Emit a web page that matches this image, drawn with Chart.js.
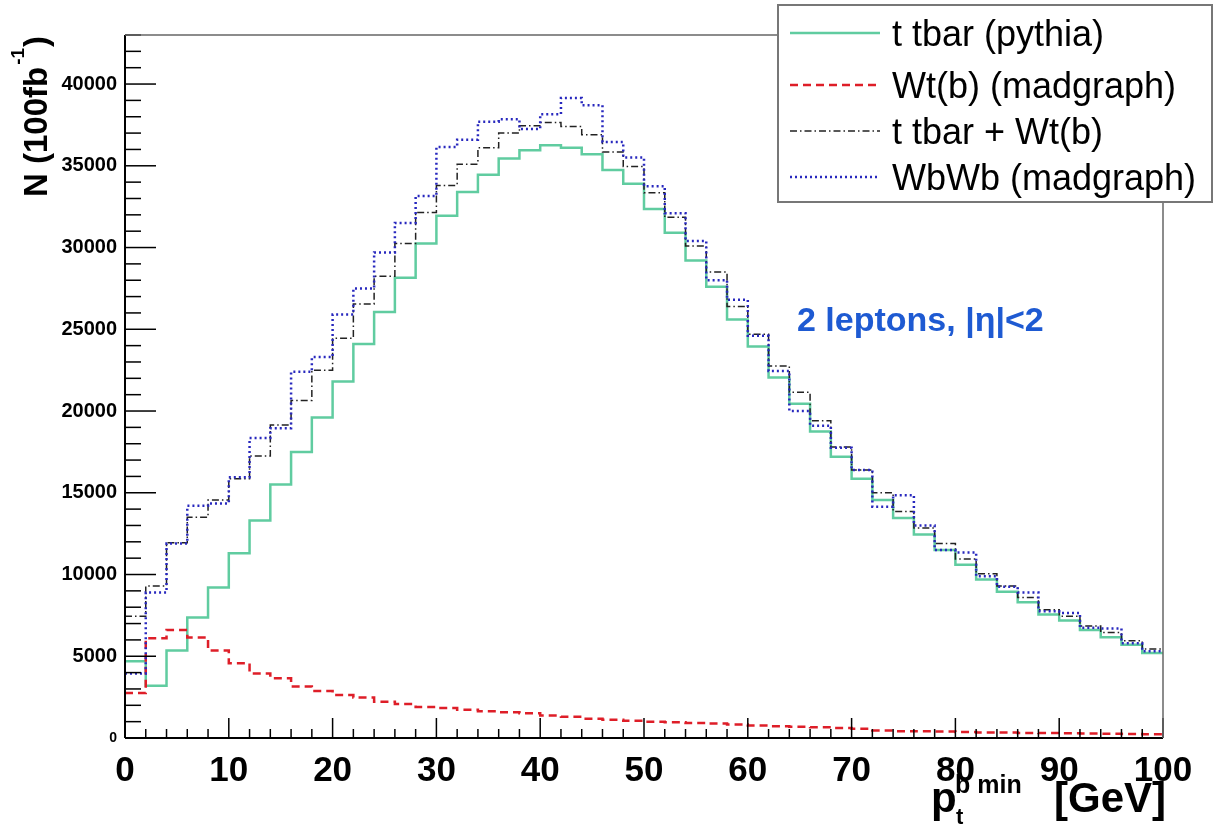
<!DOCTYPE html>
<html>
<head>
<meta charset="utf-8">
<script src="https://cdn.jsdelivr.net/npm/chart.js@4.4.0/dist/chart.umd.min.js"></script>
<style>
  html, body { margin: 0; padding: 0; background: #fff; }
</style>
</head>
<body>
<canvas id="myChart" width="1218" height="827"></canvas>
<script>
const ctx = document.getElementById("myChart");

/* binning: 50 bins of 2 GeV from 0 to 100 */
const binWidth = 2;
const nBins = 50;
const binEdges = [];
for (let i = 0; i <= nBins; i++) binEdges.push(i * binWidth);

const seriesNames = ["t tbar (pythia)", "Wt(b) (madgraph)", "t tbar + Wt(b)", "WbWb (madgraph)"];
const yTickLabels = [0, 5000, 10000, 15000, 20000, 25000, 30000, 35000, 40000];

/* bin contents */
const ttbar = [
  4700, 3200, 5350, 7370, 9200, 11300, 13300, 15500, 17500, 19600,
  21800, 24100, 26050, 28150, 30250, 31950, 33400, 34450, 35450, 35950,
  36250, 36100, 35700, 34750, 33900, 32350, 30900, 29200, 27600, 25600,
  23950, 22050, 20450, 18750, 17200, 15850, 14550, 13450, 12450, 11500,
  10600, 9700, 8950, 8300, 7550, 7180, 6600, 6170, 5700, 5200
];
const wtb = [
  2750, 6100, 6600, 6150, 5350, 4570, 3950, 3650, 3150, 2880,
  2630, 2470, 2220, 2080, 1900, 1840, 1730, 1630, 1580, 1520,
  1380, 1300, 1180, 1120, 1060, 990, 960, 920, 880, 820,
  760, 720, 690, 650, 610, 560, 460, 420, 410, 390,
  360, 340, 330, 310, 300, 290, 270, 260, 240, 230
];
const ttbarWtb = [
  7450, 9300, 11950, 13500, 14550, 15850, 17250, 19150, 20650, 22500,
  24450, 26550, 28250, 30250, 32150, 33800, 35100, 36100, 37000, 37450,
  37650, 37400, 36900, 35850, 34950, 33350, 31850, 30100, 28500, 26400,
  24700, 22750, 21150, 19400, 17800, 16400, 15000, 13850, 12850, 11900,
  10950, 10050, 9300, 8600, 7850, 7450, 6850, 6450, 5950, 5450
];
const wbwb = [
  3950, 8900, 11900, 14200, 14350, 15950, 18350, 18950, 22400, 23300,
  25900, 27500, 29700, 31500, 33150, 36150, 36600, 37700, 37850, 37250,
  38150, 39150, 38700, 36450, 35500, 33750, 32100, 30400, 28000, 26800,
  24600, 22450, 20000, 19100, 17750, 16400, 14150, 14850, 13000, 11500,
  11350, 9900, 9250, 8900, 7750, 7650, 6750, 6700, 5800, 5300
];

const yMax = 43000;
const FONT = "'Liberation Sans', Arial, sans-serif";

/* histogram outline: one point per bin edge, last bin repeated at 100 */
function hist(vals) {
  return binEdges.map((e, i) => ({ x: e, y: vals[Math.min(i, vals.length - 1)] }));
}

const styles = [
  { color: "rgb(96, 204, 160)", width: 2.5, dash: [] },
  { color: "rgb(222, 30, 40)", width: 2.5, dash: [8, 5] },
  { color: "#222", width: 1.5, dash: [7, 3, 1.5, 3] },
  { color: "rgb(40, 40, 190)", width: 2.5, dash: [2, 3] },
];

function lineTo(c, x1, y1, x2, y2) {
  c.beginPath(); c.moveTo(x1, y1); c.lineTo(x2, y2); c.stroke();
}

/* ROOT-like frame, inward ticks, titles, legend */
const rootLook = {
  id: "rootLook",
  afterDraw(chart) {
    const c = chart.ctx;
    const a = chart.chartArea;
    const x = chart.scales.x, y = chart.scales.y;
    c.save();

    c.strokeStyle = "#000";
    c.lineWidth = 1.5;
    for (let v = 0; v <= yMax; v += 1000) {
      const py = y.getPixelForValue(v);
      lineTo(c, a.left, py, a.left + (v % 5000 === 0 ? 31 : 16), py);
    }
    for (let v = 0; v <= 100; v += 2) {
      const px = x.getPixelForValue(v);
      lineTo(c, px, a.bottom, px, a.bottom - (v % 10 === 0 ? 20 : 9));
    }
    c.lineWidth = 2;
    lineTo(c, a.left, a.top, a.left, a.bottom);
    lineTo(c, a.left, a.bottom, a.right, a.bottom);
    c.strokeStyle = "#666";
    c.lineWidth = 1.5;
    lineTo(c, a.left, a.top, a.right, a.top);
    lineTo(c, a.right, a.top, a.right, a.bottom);

    /* y title */
    c.fillStyle = "#000";
    c.save();
    c.translate(47, 197);
    c.rotate(-Math.PI / 2);
    c.textBaseline = "alphabetic";
    c.font = "bold 33px " + FONT;
    const t1 = "N (100fb";
    c.fillText(t1, 0, 0);
    let w = c.measureText(t1).width;
    c.font = "bold 19px " + FONT;
    c.fillText("-1", w + 2, -23);
    w += c.measureText("-1").width + 3;
    c.font = "bold 33px " + FONT;
    c.fillText(")", w, 0);
    c.restore();

    /* x title */
    c.font = "bold 42px " + FONT;
    c.fillText("p", 931, 812);
    c.font = "bold 22px " + FONT;
    c.fillText("t", 956, 824);
    c.font = "bold 25px " + FONT;
    c.fillText("b min", 955, 793);
    c.font = "bold 42px " + FONT;
    c.fillText("[GeV]", 1054, 812);

    /* annotation */
    c.fillStyle = "rgb(30, 90, 210)";
    c.font = "bold 34px " + FONT;
    c.fillText("2 leptons, |\u03b7|<2", 797, 331);

    /* legend */
    c.fillStyle = "#fff";
    c.fillRect(778, 5, 434, 197);
    c.strokeStyle = "#777";
    c.lineWidth = 2;
    c.strokeRect(778, 5, 434, 197);
    const rowY = [33, 85, 131, 177];
    c.font = "36px " + FONT;
    c.textBaseline = "middle";
    seriesNames.forEach((name, i) => {
      const s = styles[i];
      c.strokeStyle = s.color;
      c.lineWidth = s.width;
      c.setLineDash(s.dash);
      lineTo(c, 790, rowY[i], 880, rowY[i]);
      c.setLineDash([]);
      c.fillStyle = "#000";
      c.fillText(name, 892, rowY[i] + 3);
    });
    c.restore();
  }
};

new Chart(ctx, {
  type: "line",
  data: {
    datasets: [ttbar, wtb, ttbarWtb, wbwb].map((vals, i) => ({
      label: seriesNames[i],
      data: hist(vals),
      stepped: true,
      borderColor: styles[i].color,
      borderWidth: styles[i].width,
      borderDash: styles[i].dash,
      pointRadius: 0,
      fill: false,
      order: [3, 2, 1, 0][i],
    })),
  },
  options: {
    responsive: false,
    animation: false,
    layout: { padding: { top: 35, right: 55, left: 0, bottom: 0 } },
    plugins: { legend: { display: false }, tooltip: { enabled: false } },
    scales: {
      x: {
        type: "linear",
        min: 0,
        max: 100,
        grid: { display: false, drawTicks: false },
        border: { display: false },
        ticks: {
          stepSize: 10,
          padding: 12,
          autoSkip: false,
          maxRotation: 0,
          color: "#000",
          font: { family: FONT, size: 35, weight: "bold" },
        },
        afterFit(scale) { scale.height = 89; },
      },
      y: {
        min: 0,
        max: yMax,
        grid: { display: false, drawTicks: false },
        border: { display: false },
        afterBuildTicks(scale) {
          scale.ticks = yTickLabels.map((v) => ({ value: v }));
        },
        ticks: {
          padding: 8,
          autoSkip: false,
          color: "#000",
          font: (c) => ({ family: FONT, size: c.tick && c.tick.value === 0 ? 14 : 20, weight: "bold" }),
          callback: (v) => String(v),
        },
        afterFit(scale) { scale.width = 125; },
      },
    },
  },
  plugins: [rootLook],
});
</script>
</body>
</html>
